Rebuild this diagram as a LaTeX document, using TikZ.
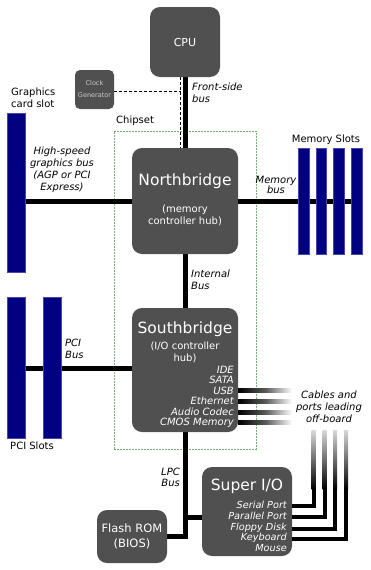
\documentclass[tikz,border=0pt]{standalone}
\usepackage{fontspec}
\setmainfont{DejaVu Sans}
\usetikzlibrary{positioning}
\pgfdeclarelayer{background}
\pgfsetlayers{background,main}
\definecolor{chipgray}{RGB}{80,80,80}
\definecolor{slotblue}{RGB}{0,0,128}
\definecolor{slotedge}{RGB}{70,70,170}
\definecolor{chipsetgreen}{RGB}{120,175,120}
\newcommand{\pxfont}[2]{\fontsize{#1}{#2}\selectfont}

\begin{document}
\begin{tikzpicture}[
        x=1pt, y=-1pt,
        chip/.style={rectangle, rounded corners=10pt, fill=chipgray, text=white, inner sep=0pt},
        boxtitle/.style={font=\pxfont{15.5}{18}, text=white, inner sep=0pt, anchor=base},
        boxitems/.style={font=\pxfont{10}{10.45}\itshape, text=white, inner sep=0pt, align=right, anchor=east},
        slot/.style={rectangle, fill=slotblue, draw=slotedge, line width=0.6pt, inner sep=0pt, minimum width=17.5pt},
        caption/.style={font=\pxfont{10}{11.7}, inner sep=0pt},
        busname/.style={font=\pxfont{10}{12}\itshape, inner sep=0pt},
        bus/.style={line width=5pt},
        cable/.style={line width=4pt},
        clockline/.style={dash pattern=on 3pt off 2pt, line width=0.9pt}
    ]
    \useasboundingbox (0,0) rectangle (370,570);

    % CPU and clock
    \node[chip, minimum width=70pt, minimum height=70pt, font=\pxfont{11}{13}] (cpu) at (185,42) {CPU};
    \node[chip, rounded corners=5pt, minimum width=39pt, minimum height=39pt,
          text=black!20, font=\pxfont{6.5}{12}, align=center] (clock) at (94.5,89.5) {Clock\\Generator};

    % Northbridge
    \node[chip, minimum width=106pt, minimum height=106pt] (nb) at (185,201) {};
    \node[boxtitle] (nbtitle) at (185,185) {Northbridge};
    \node[font=\pxfont{10}{11.7}, text=white, align=center, inner sep=0pt] (nbsub) at (185,215.5) {(memory\\controller hub)};

    % Southbridge
    \node[chip, minimum width=106pt, minimum height=124pt] (sb) at (185,370) {};
    \node[boxtitle] (sbtitle) at (185,333.5) {Southbridge};
    \node[font=\pxfont{10}{12}, text=white, align=center, inner sep=0pt] (sbsub) at (185,352.5) {(I/O controller\\hub)};
    \node[boxitems] (sbitems) at (234,397) {IDE\\SATA\\USB\\Ethernet\\Audio Codec\\CMOS Memory};

    % Super I/O and flash
    \node[chip, minimum width=90pt, minimum height=89pt] (sio) at (247,511.5) {};
    \node[boxtitle] (siotitle) at (247,490) {Super I/O};
    \node[boxitems, font=\pxfont{9.7}{10.6}\itshape] (sioitems) at (287,526.5) {Serial Port\\Parallel Port\\Floppy Disk\\Keyboard\\Mouse};
    \node[chip, minimum width=70pt, minimum height=53pt, font=\pxfont{11.5}{15}, align=center] (flash) at (132,536.5) {Flash ROM\\(BIOS)};

    % Slots
    \node[slot, minimum height=159pt] (agp) at (16.25,192.5) {};
    \foreach \i in {1,...,4}
        \node[slot, minimum width=10.7pt, minimum height=106pt] (mem\i) at ({286+17.7*\i},201) {};
    \node[slot, minimum height=141pt] (pci1) at (16.25,367.5) {};
    \node[slot, minimum height=141pt, right=18pt of pci1] (pci2) {};

    % Labels
    \node[caption, anchor=west, align=left] (agplabel) at (11,97.5) {Graphics\\card slot};
    \node[caption, anchor=west] (chipsetlabel) at (116,120.7) {Chipset};
    \node[caption] (memlabel) at (326,140) {Memory Slots};
    \node[caption] (pcilabel) at (32,446) {PCI Slots};
    \node[busname, anchor=west, align=left] (fsblabel) at (192,93) {Front-side\\bus};
    \node[busname, align=center] (agpbuslabel) at (62,170) {High-speed\\graphics bus\\(AGP or PCI\\Express)};
    \node[busname, font=\pxfont{10}{10}\itshape, align=center] (membuslabel) at (276,184.5) {Memory\\bus};
    \node[busname, anchor=west, align=left] (intbuslabel) at (191,279.5) {Internal\\Bus};
    \node[busname, anchor=west, align=left] (pcibuslabel) at (65,349) {PCI\\Bus};
    \node[busname, font=\pxfont{10}{11}\itshape, anchor=east, align=right] (lpclabel) at (180,477.5) {LPC\\Bus};
    \node[busname, align=center] (cablelabel) at (329,407) {Cables and\\ports leading\\off-board};

    % Buses
    \begin{pgfonlayer}{background}
        \node[draw=chipsetgreen, dash pattern=on 2pt off 1pt, line width=0.8pt,
              minimum width=142pt, minimum height=318pt, inner sep=0pt] (chipset) at (185,290) {};
        \draw[bus] (cpu) -- (nb);
        \draw[bus] (nb) -- (sb);
        \draw[bus] (nb.west) -- (nb.west -| agp.east);
        \draw[bus] (nb.east) -- (mem4.center);
        \draw[bus] ([yshift=2pt]sb.west) -- ([yshift=2pt]sb.west -| pci1.east);
        \draw[bus] (sb.south) |- (flash.east);
        \draw[bus] ([yshift=-5.5pt]sio.west) -- ([yshift=-5.5pt]sio.west -| sb.south);
    \end{pgfonlayer}

    % Clock signal
    \coordinate (fsbtop) at ([xshift=-4.3pt]cpu.south);
    \coordinate (fsbbot) at ([xshift=-4.3pt]nb.north);
    \draw[clockline] (fsbtop) -- (fsbbot);
    \draw[clockline] ([yshift=-1.5pt]clock.east) -- ([yshift=-1.5pt]clock.east -| fsbtop);

    % Cables leading off-board
    \foreach \y in {390.7,401.7,412.3,422.7} {
        \coordinate (c) at (sb.east |- 0,\y);
        \shade[left color=black, right color=white, middle color=black!65]
            ([yshift=2pt]c) rectangle ([xshift=54pt,yshift=-2pt]c);
    }
    \foreach \y/\x in {506/313.5, 517/324.5, 529/335, 539/346} {
        \shade[top color=white!85!black, bottom color=black] (\x-2,430) rectangle (\x+2,489);
        \draw[cable] (sio.east |- 0,\y) -| (\x,488);
    }

\end{tikzpicture}
\end{document}
